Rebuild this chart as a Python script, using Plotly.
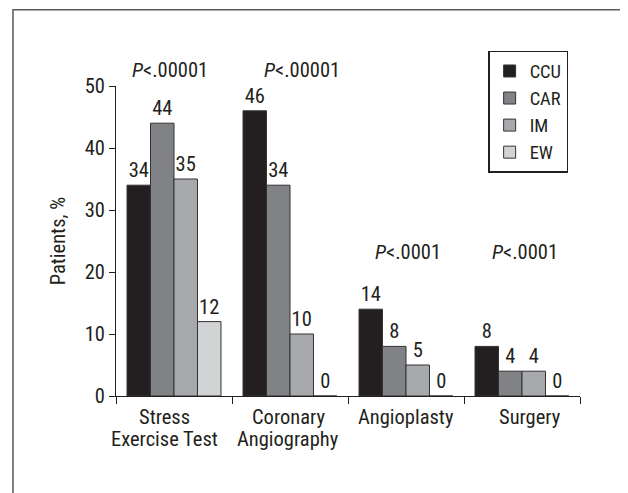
import plotly.graph_objects as go

categories = ["Stress<br>Exercise Test", "Coronary<br>Angiography", "Angioplasty", "Surgery"]
series_names = ["CCU", "CAR", "IM", "EW"]
ccu = [34, 46, 14, 8]
car = [44, 34, 8, 4]
im = [35, 10, 5, 4]
ew = [12, 0, 0, 0]
p_labels = ["<i>P</i><.00001", "<i>P</i><.00001", "<i>P</i><.0001", "<i>P</i><.0001"]

colors = ["#231f20", "#808285", "#a7a9ac", "#d1d3d4"]
FONT = "Roboto Condensed, Liberation Sans Narrow, sans-serif"
FS = 20.5

fig = go.Figure()
xs = list(range(len(categories)))
for name, vals, col in zip(series_names, [ccu, car, im, ew], colors):
    fig.add_trace(go.Bar(
        x=xs, y=vals, name=name,
        marker=dict(color=col, line=dict(color="#333333", width=1)),
        text=[str(v) for v in vals], textposition="outside",
        textfont=dict(size=FS, color="#231f20", family=FONT),
        cliponaxis=False,
    ))

# page body has an 8px margin, so the figure is 8px smaller than the window
fig.update_layout(
    width=620, height=485,
    margin=dict(l=108, r=48, t=78, b=97),
    paper_bgcolor="white", plot_bgcolor="white",
    barmode="group", bargap=0.19, bargroupgap=0,
    font=dict(family=FONT, size=FS, color="#231f20"),
    showlegend=True,
    legend=dict(x=0.802, y=1.113, xanchor="left", yanchor="top",
                bordercolor="#231f20", borderwidth=1.5,
                font=dict(size=18.5, family=FONT),
                tracegroupgap=0),
    xaxis=dict(
        range=[-0.5, 3.5], tickmode="array",
        tickvals=[-0.5, 0.5, 1.5, 2.5, 3.5], ticktext=["", "", "", "", ""],
        ticks="outside", ticklen=7, tickcolor="#231f20", tickwidth=1,
        showline=True, linecolor="#231f20", linewidth=1,
        showgrid=False, zeroline=False,
    ),
    yaxis=dict(
        range=[0, 50], tickvals=[0, 10, 20, 30, 40, 50],
        ticks="outside", ticklen=6, tickcolor="#231f20",
        showline=True, linecolor="#231f20", linewidth=1,
        showgrid=False, zeroline=False,
        tickfont=dict(size=FS, family=FONT),
        title=dict(text="Patients, %", font=dict(size=FS, family=FONT), standoff=13),
    ),
)

# category labels below the axis, one annotation per line
label_shift = [-10, -2, 0, 8]
for i, c in enumerate(categories):
    for j, line in enumerate(c.split("<br>")):
        fig.add_annotation(x=i, y=0, xref="x", yref="y", text=line, showarrow=False,
                           xanchor="center", yanchor="middle",
                           xshift=label_shift[i], yshift=-21 - 22 * j,
                           font=dict(size=FS, family=FONT))

# P-value annotations
p_pos = [(0.116, 1.05, "paper"), (0.401, 1.05, "paper"), (0.629, 23.2, "y"), (0.881, 23.2, "y")]
for (px, py, yr), lab in zip(p_pos, p_labels):
    fig.add_annotation(x=px, y=py, xref="paper", yref=yr, text=lab, showarrow=False,
                       xanchor="center", yanchor="middle",
                       font=dict(size=FS, family=FONT))

# outer frame
fig.add_shape(type="rect", xref="paper", yref="paper",
              x0=-0.222, x1=1.094, y0=-0.34, y1=1.246,
              line=dict(color="#5a5a5a", width=1.5))

fig.write_html("out.html")
